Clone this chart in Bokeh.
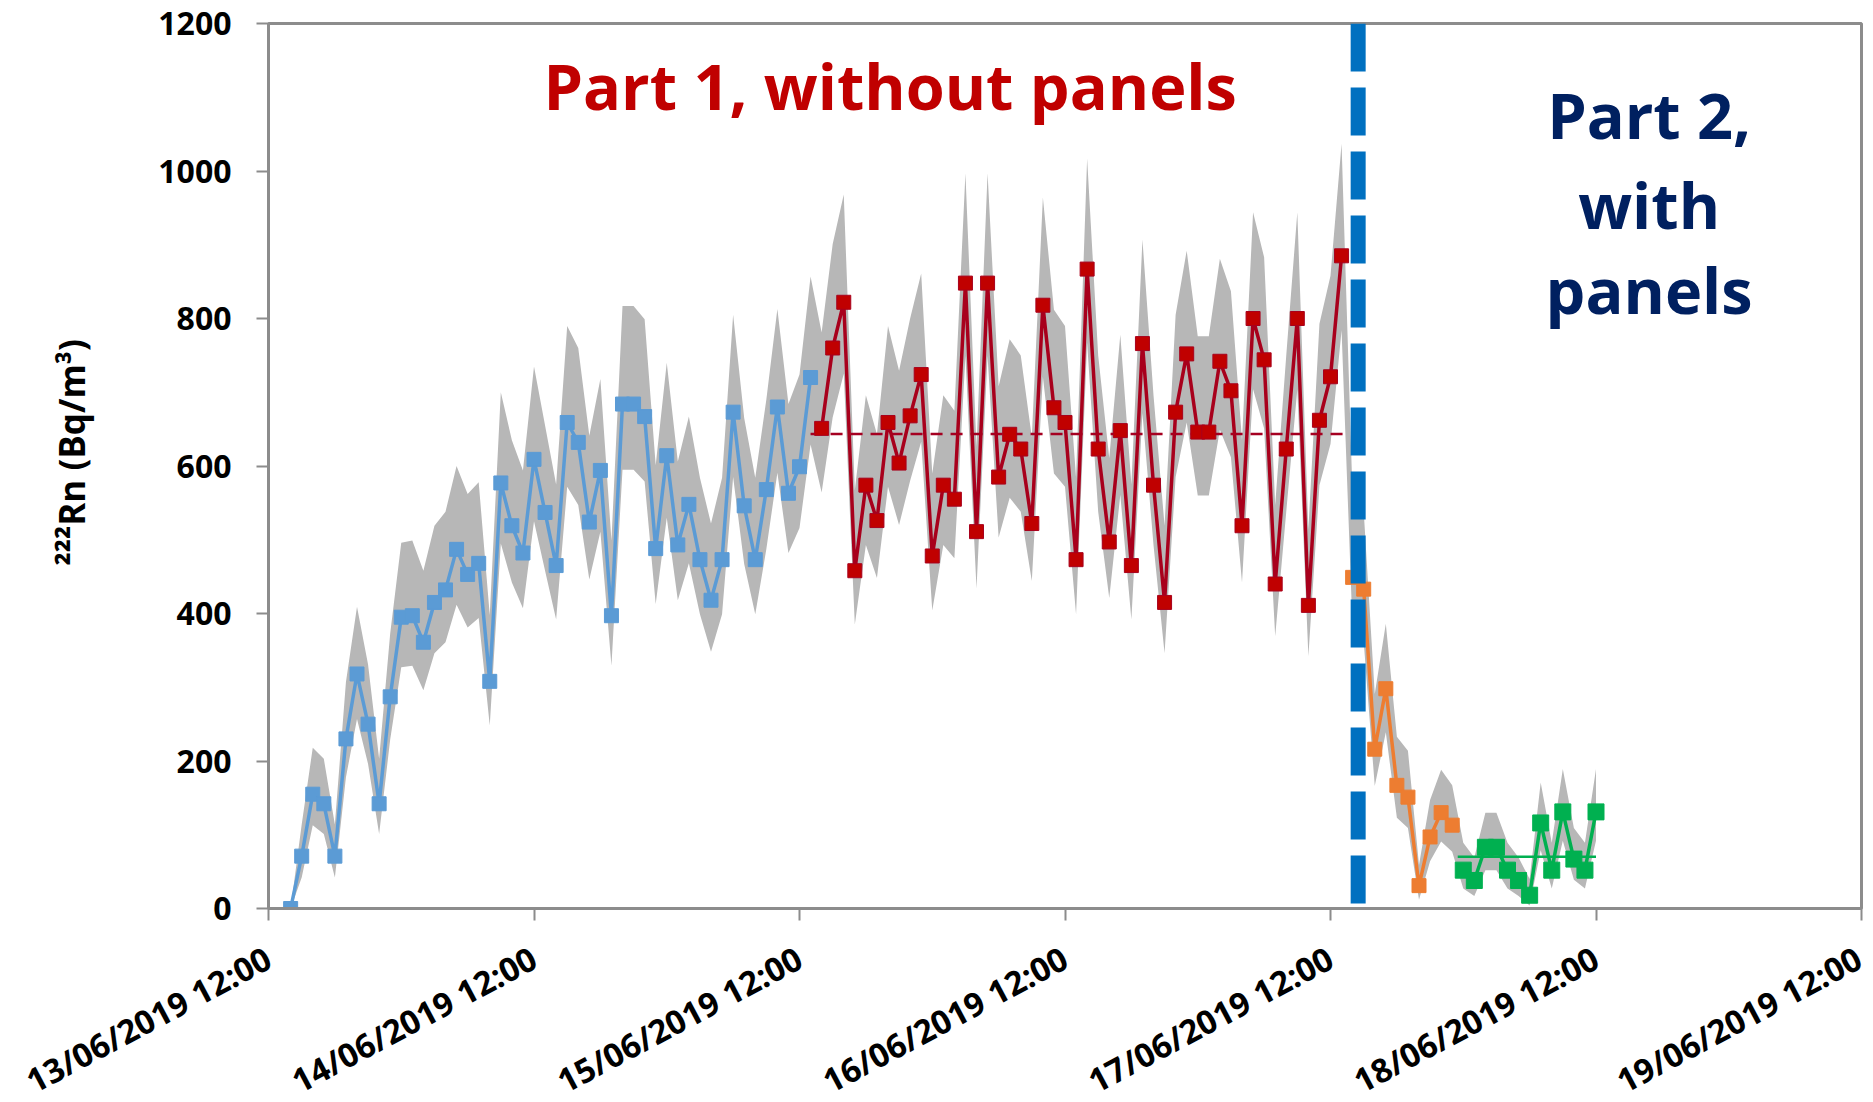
import math
import numpy as np
from bokeh.plotting import figure
from bokeh.models import Label, FixedTicker
from bokeh.embed import file_html
from bokeh.resources import INLINE

# ---------------- data (hours since 13/06/2019 12:00, hourly samples) ----------------
tick_hours = [0, 24, 48, 72, 96, 120, 144]
tick_labels = ["13/06/2019 12:00", "14/06/2019 12:00", "15/06/2019 12:00",
               "16/06/2019 12:00", "17/06/2019 12:00", "18/06/2019 12:00",
               "19/06/2019 12:00"]
y_ticks = [0, 200, 400, 600, 800, 1000, 1200]

blue_start = 2
blue_values = [0, 71, 155, 142, 71, 230, 318, 250, 142, 287, 395, 397, 361, 415, 432, 487,
               453, 468, 308, 577, 519, 482, 609, 537, 465, 659, 632, 524, 594, 397, 684, 684,
               667, 488, 614, 493, 548, 473, 418, 473, 673, 546, 473, 568, 680, 563, 599, 720]
blue_upper = [0, 114, 218, 203, 114, 307, 409, 331, 203, 373, 496, 499, 458, 519, 538, 600,
              562, 578, 398, 700, 635, 594, 735, 655, 575, 790, 760, 641, 718, 499, 817, 817,
              799, 601, 740, 606, 667, 584, 522, 584, 805, 665, 584, 690, 813, 684, 724, 857]
blue_lower = [0, 42, 113, 101, 42, 178, 257, 196, 101, 229, 327, 329, 296, 346, 361, 412,
              381, 394, 248, 495, 442, 407, 525, 458, 392, 572, 547, 446, 511, 329, 595, 595,
              579, 413, 530, 418, 468, 399, 348, 399, 585, 467, 399, 487, 591, 482, 516, 629]

red_start = 50
red_values = [651, 760, 822, 458, 574, 526, 659, 604, 668, 724, 478, 574, 555, 848, 511, 848,
              585, 643, 623, 522, 818, 679, 659, 473, 867, 623, 497, 648, 465, 766, 574, 415,
              673, 752, 646, 646, 742, 702, 519, 800, 744, 440, 623, 800, 411, 662, 721, 885]
red_upper = [781, 901, 968, 567, 696, 643, 790, 729, 800, 861, 590, 696, 675, 997, 626, 997,
             708, 772, 750, 639, 964, 812, 790, 584, 1017, 750, 611, 778, 575, 907, 696, 519,
             805, 892, 776, 776, 881, 837, 635, 944, 883, 547, 750, 944, 514, 793, 858, 1037]
red_lower = [564, 666, 725, 385, 493, 448, 572, 520, 580, 633, 404, 493, 475, 749, 434, 749,
             503, 557, 538, 444, 721, 590, 572, 399, 767, 538, 421, 561, 392, 672, 493, 346,
             585, 659, 560, 560, 649, 612, 442, 704, 651, 369, 538, 704, 342, 574, 630, 784]

orange_start = 98
orange_values = [449, 433, 216, 298, 167, 151, 31, 97, 130, 113]
orange_upper = [557, 539, 291, 386, 233, 214, 59, 147, 188, 167]
orange_lower = [377, 362, 166, 239, 123, 109, 12, 64, 91, 77]

green_start = 108
green_values = [52, 38, 83, 83, 52, 38, 18, 116, 52, 131, 67, 52, 131]
green_upper = [89, 69, 130, 130, 89, 69, 40, 171, 89, 189, 109, 89, 189]
green_lower = [27, 17, 52, 52, 27, 17, 4, 79, 27, 92, 39, 27, 92]

separator_hour = 98.5

# ---------------- figure ----------------
p = figure(frame_width=1593, frame_height=885, x_range=(0, 144), y_range=(0, 1200),
           output_backend="svg", toolbar_location=None,
           min_border_left=268, min_border_right=8, min_border_top=23, min_border_bottom=170,
           background_fill_color="white", border_fill_color="white")
p.outline_line_color = "#8c8c8c"
p.outline_line_width = 3
p.xgrid.visible = False
p.ygrid.visible = False


def hours(start, vals):
    return [start + i for i in range(len(vals))]


bh = hours(blue_start, blue_values)
rh = hours(red_start, red_values)
oh = hours(orange_start, orange_values)
gh = hours(green_start, green_values)

all_h = bh + rh + oh + gh
all_lo = blue_lower + red_lower + orange_lower + green_lower
all_up = blue_upper + red_upper + orange_upper + green_upper
p.varea(x=all_h, y1=all_lo, y2=all_up, fill_color="#b7b7b7", fill_alpha=1.0)

# blue
p.line(bh, blue_values, line_color="#5b9bd5", line_width=3.5)
p.scatter(bh, blue_values, marker="square", size=14, fill_color="#5b9bd5", line_color="#5b9bd5")
# red
red_mean = float(np.mean(red_values))
p.line([bh[-1], rh[-1] + 0.5], [red_mean, red_mean], line_color="#a50021", line_width=2.5,
       line_dash="12 8")
p.line(rh, red_values, line_color="#a8001c", line_width=3.5)
p.scatter(rh, red_values, marker="square", size=14, fill_color="#c00000", line_color="#a8001c")
# orange
p.line(oh, orange_values, line_color="#ed7d31", line_width=3.5)
p.scatter(oh, orange_values, marker="square", size=14, fill_color="#ed7d31", line_color="#ed7d31")
# green
green_mean = float(np.mean(green_values))
p.line([gh[0] - 0.5, gh[-1]], [green_mean, green_mean], line_color="#00b050", line_width=2.5)
p.line(gh, green_values, line_color="#00b050", line_width=3.5)
p.scatter(gh, green_values, marker="square", size=16, fill_color="#00b050", line_color="#00b050")

# separator
p.line([separator_hour, separator_hour], [1200, 0], line_color="#0070c0", line_width=15,
       line_dash="48 16")

# annotations
p.add_layout(Label(x=56.2, y=1116, text="Part 1, without panels", text_align="center",
                   text_baseline="alphabetic", text_font="Open Sans", text_font_style="bold",
                   text_font_size="63px", text_color="#c00000"))
for txt, yy in zip(["Part 2,", "with", "panels"], [1076, 955, 840]):
    p.add_layout(Label(x=124.8, y=yy, text=txt, text_align="center",
                       text_baseline="alphabetic", text_font="Open Sans",
                       text_font_style="bold", text_font_size="63px", text_color="#002060"))

# axes
for ax in (p.xaxis, p.yaxis):
    ax.axis_line_color = "#8c8c8c"
    ax.axis_line_width = 3
    ax.major_tick_line_color = "#8c8c8c"
    ax.major_tick_line_width = 2
    ax.major_tick_out = 12
    ax.major_tick_in = 0
    ax.minor_tick_line_color = None
    ax.major_label_text_font = "Open Sans"
    ax.major_label_text_font_style = "bold"
    ax.major_label_text_color = "#000000"

p.xaxis.ticker = FixedTicker(ticks=tick_hours)
p.xaxis.major_label_overrides = {h: lab for h, lab in zip(tick_hours, tick_labels)}
p.xaxis.major_label_orientation = math.radians(28)
p.xaxis.major_label_text_font_size = "33px"
p.xaxis.major_label_standoff = 35

p.yaxis.ticker = FixedTicker(ticks=y_ticks)
p.yaxis.major_label_text_font_size = "32px"
p.yaxis.major_label_standoff = 25
p.yaxis.axis_label = "\u00a0\u00a0\u00a0²²²Rn (Bq/m³)"
p.yaxis.axis_label_text_font = "Open Sans"
p.yaxis.axis_label_text_font_style = "bold"
p.yaxis.axis_label_text_font_size = "35px"
p.yaxis.axis_label_text_color = "#000000"
p.yaxis.axis_label_standoff = 60

open("out.html", "w").write(file_html(p, INLINE))
